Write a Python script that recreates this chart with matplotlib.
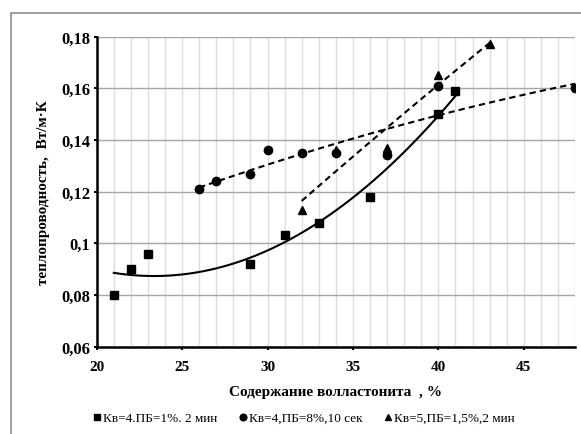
import numpy as np
import matplotlib
matplotlib.use("Agg")
import matplotlib.pyplot as plt
from matplotlib.patches import Rectangle
from matplotlib.ticker import MultipleLocator, FuncFormatter

# data
sq_x = [21, 22, 23, 29, 31, 33, 36, 40, 41]
sq_y = [0.080, 0.090, 0.096, 0.092, 0.103, 0.108, 0.118, 0.150, 0.159]

ci_x = [26, 27, 29, 30, 32, 34, 37, 40, 48]
ci_y = [0.121, 0.124, 0.127, 0.136, 0.135, 0.135, 0.134, 0.161, 0.160]

tr_x = [32, 34, 37, 40, 43]
tr_y = [0.113, 0.136, 0.137, 0.165, 0.177]

labels = ["Кв=4.ПБ=1%. 2 мин", "Кв=4,ПБ=8%,10 сек", "Кв=5,ПБ=1,5%,2 мин"]

plt.rcParams["font.family"] = ["Liberation Serif", "DejaVu Serif"]

fig = plt.figure(figsize=(5.81, 4.35), dpi=100)
fig.patches.append(Rectangle((11 / 581, -0.1), 1.2, 1 - 14 / 435 + 0.1,
                             transform=fig.transFigure, fill=False,
                             edgecolor="#8c8c8c", linewidth=1.2))
ax = fig.add_axes([96.7 / 581, 1 - 347.5 / 435, (575 - 96.7) / 581, (347.5 - 37.7) / 435])

# trend lines (polynomial, 2nd order, as in the spreadsheet)
def trend(xs, ys, style):
    c = np.polyfit(xs, ys, 2)
    xx = np.linspace(min(xs), max(xs), 200)
    ax.plot(xx, np.polyval(c, xx), color="black", linestyle=style,
            linewidth=1.5, zorder=3)

trend(sq_x, sq_y, "-")
trend(ci_x, ci_y, (0, (3, 2)))
trend(tr_x, tr_y, (0, (3, 2)))

ax.plot(sq_x, sq_y, "s", color="black", markersize=5.5, label=labels[0], zorder=4)
ax.plot(ci_x, ci_y, "o", color="black", markersize=6, label=labels[1], zorder=4)
ax.plot(tr_x, tr_y, "^", color="black", markersize=6, label=labels[2], zorder=4)

ax.set_xlim(20, 48)
ax.set_ylim(0.06, 0.18)
ax.xaxis.set_major_locator(MultipleLocator(5))
ax.xaxis.set_minor_locator(MultipleLocator(1))
ax.yaxis.set_major_locator(MultipleLocator(0.02))
ax.yaxis.set_major_formatter(FuncFormatter(lambda v, p: f"{v:.2f}".rstrip("0").replace(".", ",")))

ax.grid(which="minor", axis="x", color="#dcdcdc", linewidth=1.0)
ax.grid(which="major", axis="x", color="#dcdcdc", linewidth=1.0)
ax.grid(which="major", axis="y", color="#a6a6a6", linewidth=1.0)
ax.set_axisbelow(True)

for s in ["top", "right"]:
    ax.spines[s].set_visible(False)
for s in ["left", "bottom"]:
    ax.spines[s].set_linewidth(1.8)
ax.tick_params(which="major", length=2.5, width=1.5)
ax.tick_params(axis="x", labelsize=11, pad=7)
ax.tick_params(axis="y", labelsize=12, pad=2)
ax.tick_params(which="minor", length=0)
for t in ax.get_xticklabels() + ax.get_yticklabels():
    t.set_fontweight("bold")

ax.set_xlabel("Содержание волластонита  , %", fontsize=11, fontweight="bold", labelpad=9)
ax.set_ylabel("теплопроводность,  Вт/м·К", fontsize=11, fontweight="bold", labelpad=8)

fig.legend(loc="center", bbox_to_anchor=(0.523, 1 - 419 / 435), ncol=3, frameon=False,
           fontsize=9.5, handlelength=0.6, handletextpad=0.2, columnspacing=1.6,
           markerscale=0.8)

fig.savefig("out.png", dpi=100)
